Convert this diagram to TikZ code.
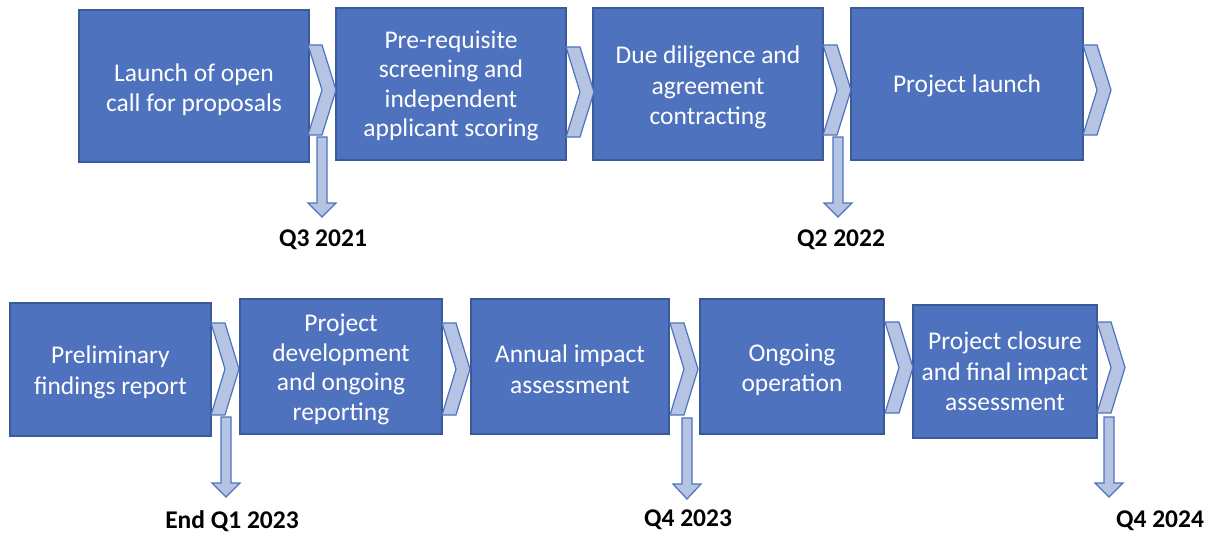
\documentclass[tikz,border=0pt]{standalone}
\usepackage{fontspec}
\setmainfont{Carlito}
\definecolor{boxfill}{HTML}{4F72BE}
\definecolor{boxline}{HTML}{3A5A9A}
\definecolor{chevfill}{HTML}{B4C4E2}
\definecolor{chevline}{HTML}{4F72BE}
\tikzset{
  stepbox/.style={draw=boxline, line width=1.2pt, fill=boxfill, inner sep=0pt},
  steptext/.style={text=white, align=center, font=\fontsize{25.5}{30.5}\selectfont, inner sep=0pt},
  chevstyle/.style={draw=chevline, line width=1.2pt, fill=chevfill, line join=miter},
  datelabel/.style={font=\fontsize{25.5}{29}\selectfont\bfseries, text=black, inner sep=0pt}
}
\newcommand{\chevr}[3]{% x0, y0, height
  \draw[chevstyle] (#1,#2) -- ++(14,0) -- ++(14,{#3/2}) -- ++(-14,{#3/2}) -- ++(-14,0) -- ++(14,{-#3/2}) -- cycle;}
\newcommand{\darr}[4]{% cx, top, headbase, tip
  \draw[chevstyle] ({#1-5},#2) -- ({#1+5},#2) -- ({#1+5},#3) -- ({#1+14},#3) -- (#1,#4) -- ({#1-14},#3) -- ({#1-5},#3) -- cycle;}
\begin{document}
\begin{tikzpicture}[x=1pt,y=-1pt]
\useasboundingbox (0,0) rectangle (1210,535);
% top row
\node[stepbox, minimum width=230pt, minimum height=152pt] (b1) at (194,86) {};
\node[stepbox, minimum width=230pt, minimum height=152pt] (b2) at (451,84) {};
\node[stepbox, minimum width=230pt, minimum height=152pt] (b3) at (708,84) {};
\node[stepbox, minimum width=232pt, minimum height=152pt] (b4) at (967,84) {};
\node[steptext] (t1) at ([yshift=-3.5pt]b1.center) {Launch of open\\call for proposals};
\node[steptext, font=\fontsize{25.5}{29.3}\selectfont] (t2) at ([yshift=-2pt]b2.center) {Pre-requisite\\screening and\\independent\\applicant scoring};
\node[steptext] (t3) at ([yshift=-3.5pt]b3.center) {Due diligence and\\agreement\\contracting};
\node[steptext] (t4) at ([yshift=-2pt]b4.center) {Project launch};
\chevr{308}{45}{90}
\chevr{566}{47}{90}
\chevr{823}{45}{90}
\chevr{1083}{45}{90}
\darr{322}{137}{203}{217}
\darr{838}{137}{203}{217}
\node[datelabel] (d1) at (323,240) {Q3 2021};
\node[datelabel] (d2) at (841,240) {Q2 2022};
% bottom row
\node[stepbox, minimum width=201pt, minimum height=133pt] (b5) at (110.5,369.5) {};
\node[stepbox, minimum width=202pt, minimum height=135pt] (b6) at (341,366.5) {};
\node[stepbox, minimum width=198pt, minimum height=135pt] (b7) at (570,366.5) {};
\node[stepbox, minimum width=184pt, minimum height=135pt] (b8) at (792,366.5) {};
\node[stepbox, minimum width=184pt, minimum height=133pt] (b9) at (1005,371.5) {};
\node[steptext] (t5) at ([yshift=-3pt]b5.center) {Preliminary\\findings report};
\node[steptext, font=\fontsize{25.5}{29.7}\selectfont] (t6) at ([yshift=-3pt]b6.center) {Project\\development\\and ongoing\\reporting};
\node[steptext] (t7) at ([yshift=-2.5pt]b7.center) {Annual impact\\assessment};
\node[steptext] (t8) at ([yshift=-3.5pt]b8.center) {Ongoing\\operation};
\node[steptext] (t9) at ([yshift=0pt]b9.center) {Project closure\\and final impact\\assessment};
\chevr{211}{323}{92}
\chevr{442}{323}{92}
\chevr{670}{323}{92}
\chevr{885}{322}{91}
\chevr{1097}{322}{91}
\darr{226}{417}{483}{497}
\darr{687}{418}{484}{499}
\darr{1109}{417}{483}{497}
\node[datelabel] (d3) at (232,521) {End Q1 2023};
\node[datelabel] (d4) at (688,520) {Q4 2023};
\node[datelabel] (d5) at (1160,521) {Q4 2024};
\end{tikzpicture}
\end{document}
